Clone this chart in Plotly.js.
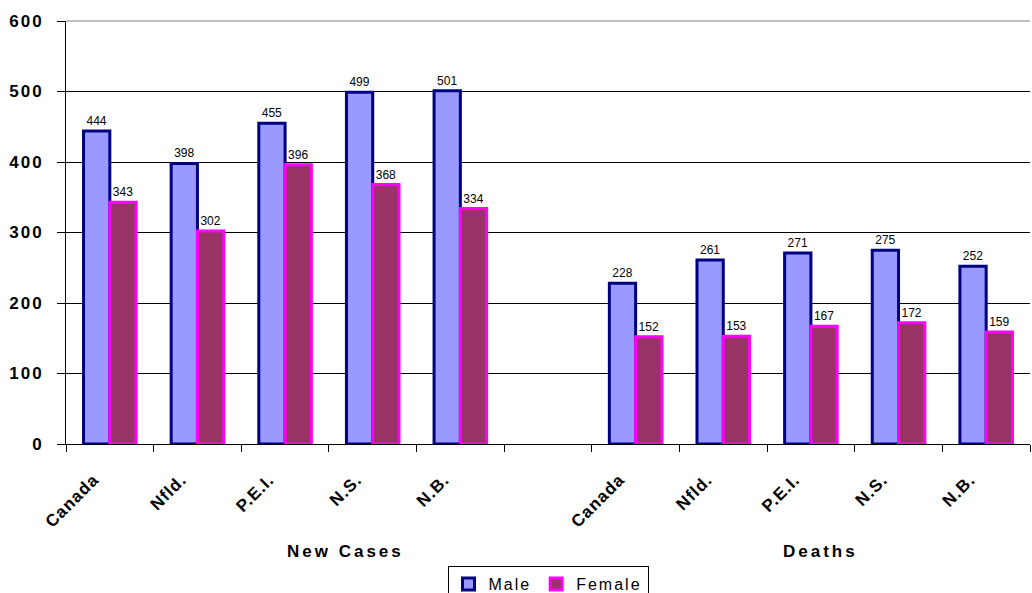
<!DOCTYPE html>
<html>
<head>
<meta charset="utf-8">
<script src="https://cdn.plot.ly/plotly-3.0.1.min.js"></script>
<style>
  html, body { margin: 0; padding: 0; background: #fff; }
  #chart { width: 1032px; height: 593px; }
  .ytick text { letter-spacing: 2px; }
  .xtick text { letter-spacing: 1px; }
  text.legendtext { letter-spacing: 2px; }
  text.annotation-text { letter-spacing: 3px; }
</style>
</head>
<body>
<div id="chart"></div>
<script>
// ---- data ----
const categories = ["Canada", "Nfld.", "P.E.I.", "N.S.", "N.B."];
const groups = ["New Cases", "Deaths"];
const maleNewCases = [444, 398, 455, 499, 501];
const femaleNewCases = [343, 302, 396, 368, 334];
const maleDeaths = [228, 261, 271, 275, 252];
const femaleDeaths = [152, 153, 167, 172, 159];
const yTicks = [0, 100, 200, 300, 400, 500, 600];

// ---- build category axis (with an empty slot between the groups) ----
const keysNew = categories.map(c => groups[0] + "|" + c);
const keysDeaths = categories.map(c => groups[1] + "|" + c);
const gapKey = "gap";
const allKeys = keysNew.concat([gapKey], keysDeaths);
const allText = categories.concat([""], categories);

const xKeys = keysNew.concat(keysDeaths);
const maleVals = maleNewCases.concat(maleDeaths);
const femaleVals = femaleNewCases.concat(femaleDeaths);

const labelFont = { family: "Liberation Sans, Arial, sans-serif", size: 12, color: "#000" };

const traces = [
  {
    type: "bar", name: "Male", x: xKeys, y: maleVals,
    text: maleVals.map(String), textposition: "outside", textfont: labelFont,
    cliponaxis: false,
    marker: { color: "#9999FF", line: { color: "#000080", width: 3 } }
  },
  {
    type: "bar", name: "Female", x: xKeys, y: femaleVals,
    text: femaleVals.map(String), textposition: "outside", textfont: labelFont,
    cliponaxis: false,
    marker: { color: "#993366", line: { color: "#FF00FF", width: 3 } }
  }
];

const W = 1032, H = 593;
const mL = 66, mR = 2, mT = 21, mB = 149;
const pw = W - mL - mR, ph = H - mT - mB;
const px = v => (v - mL) / pw;
const py = v => (H - mB - v) / ph;

const layout = {
  width: W, height: H,
  margin: { l: mL, r: mR, t: mT, b: mB, pad: 0, autoexpand: false },
  paper_bgcolor: "#fff", plot_bgcolor: "#fff",
  barmode: "group", bargap: 0.4, bargroupgap: 0,
  showlegend: true,
  legend: {
    orientation: "h", x: 0.5, xanchor: "center", y: py(566), yanchor: "top",
    bordercolor: "#000", borderwidth: 1, bgcolor: "#fff",
    font: { family: "Liberation Sans, Arial, sans-serif", size: 16, color: "#000" },
    tracegroupgap: 0
  },
  xaxis: {
    type: "category", categoryorder: "array", categoryarray: allKeys,
    tickmode: "array", tickvals: allKeys, ticktext: allText,
    tickson: "boundaries", ticks: "outside", ticklen: 7, tickcolor: "#000", tickwidth: 1,
    tickangle: -45, ticklabelshift: -16, ticklabelstandoff: 18,
    tickfont: { family: "Liberation Sans, Arial, sans-serif", size: 17, color: "#000", weight: "bold" },
    showline: true, linecolor: "#000", linewidth: 1,
    showgrid: false, zeroline: false, fixedrange: true, automargin: false,
    range: [-0.5, allKeys.length - 0.5]
  },
  yaxis: {
    range: [0, 600], tickmode: "array", tickvals: yTicks, ticktext: yTicks.map(String),
    ticks: "outside", ticklen: 8, tickcolor: "#000", tickwidth: 1,
    ticklabelstandoff: 10,
    tickfont: { family: "Liberation Sans, Arial, sans-serif", size: 17, color: "#000", weight: "bold" },
    showline: true, linecolor: "#000", linewidth: 1,
    showgrid: true, gridcolor: "#000", gridwidth: 1,
    zeroline: false, fixedrange: true, automargin: false
  },
  shapes: [
    { type: "line", xref: "paper", yref: "paper", x0: 0, x1: 1, y0: 1, y1: 1,
      line: { color: "#808080", width: 1 } }
  ],
  annotations: [
    { text: groups[0], xref: "paper", yref: "paper", x: px(345), y: py(551),
      xanchor: "center", yanchor: "middle", showarrow: false,
      font: { family: "Liberation Sans, Arial, sans-serif", size: 17, color: "#000", weight: "bold" } },
    { text: groups[1], xref: "paper", yref: "paper", x: px(820), y: py(551),
      xanchor: "center", yanchor: "middle", showarrow: false,
      font: { family: "Liberation Sans, Arial, sans-serif", size: 17, color: "#000", weight: "bold" } }
  ]
};

Plotly.newPlot("chart", traces, layout, { displayModeBar: false, staticPlot: true });
</script>
</body>
</html>
